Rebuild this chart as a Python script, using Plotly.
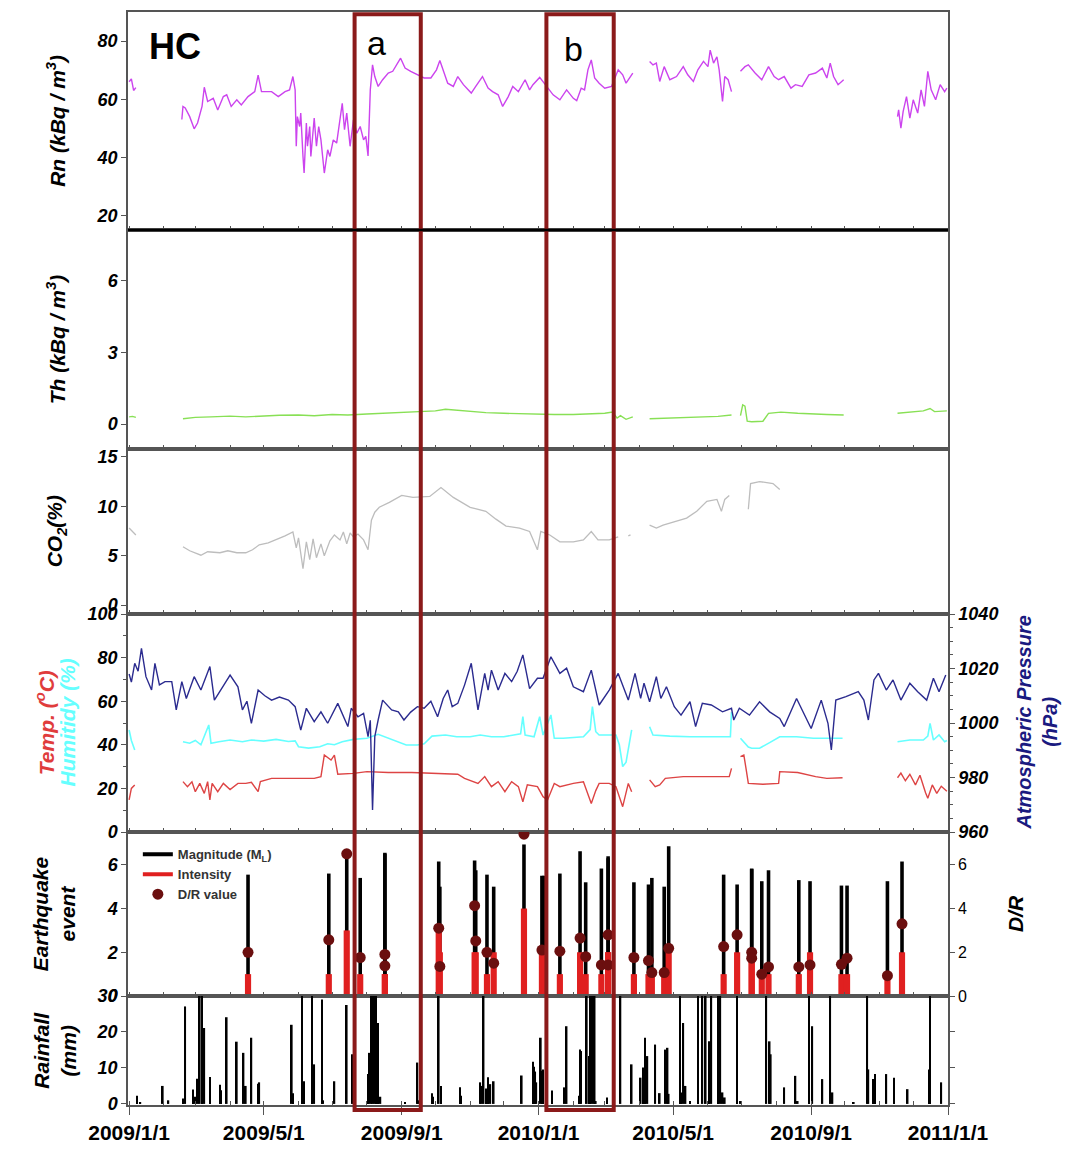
import plotly.graph_objects as go
from plotly.subplots import make_subplots

FONT = "Liberation Sans, Arial, sans-serif"

# ---------------- data ----------------
rn = [("2009-01-01",66),("2009-01-03",67),("2009-01-05",63),("2009-01-07",64),("2009-01-20",None),
("2009-02-17",53),("2009-02-18",57.5),("2009-02-20",57),("2009-02-24",54),("2009-02-28",49.8),("2009-03-03",51.8),("2009-03-07",57.5),("2009-03-09",64.1),("2009-03-12",59.2),("2009-03-17",60.3),("2009-03-21",56.3),("2009-03-26",60.9),("2009-03-29",61.5),("2009-04-02",57.5),("2009-04-07",59.8),("2009-04-11",58),("2009-04-17",60.9),("2009-04-23",62.6),("2009-04-26",68.3),("2009-04-29",62.6),("2009-05-08",62.6),("2009-05-14",60.9),("2009-05-20",62.6),("2009-05-24",63.2),("2009-05-27",67.8),("2009-05-29",63.2),("2009-05-30",43.8),("2009-05-31",54),("2009-06-02",50.6),("2009-06-03",55.2),("2009-06-05",40.3),("2009-06-06",34.6),("2009-06-08",51.8),("2009-06-09",43.8),("2009-06-11",50.6),("2009-06-12",40.3),("2009-06-15",53.5),("2009-06-17",43.8),("2009-06-19",50.6),("2009-06-21",46),("2009-06-24",34.6),("2009-06-27",42.6),("2009-06-29",40.3),("2009-07-02",46),("2009-07-05",44.9),("2009-07-08",54),("2009-07-10",58.6),("2009-07-12",49.5),("2009-07-14",55.2),("2009-07-17",43.8),("2009-07-20",52.9),("2009-07-23",48.3),("2009-07-26",50.6),("2009-07-29",46),("2009-07-31",47.2),("2009-08-02",40.5),("2009-08-04",63.2),("2009-08-06",71.8),("2009-08-08",67.8),("2009-08-11",64.4),("2009-08-15",66.7),("2009-08-20",69),("2009-08-24",69.6),("2009-08-31",74.1),("2009-09-04",70.7),("2009-09-09",69.6),("2009-09-15",68.4),("2009-09-21",67.3),("2009-09-27",67.3),("2009-10-02",70.1),("2009-10-05",73.3),("2009-10-08",70.1),("2009-10-12",65.5),("2009-10-17",64.4),("2009-10-21",67.8),("2009-10-26",65),("2009-11-02",62.1),("2009-11-06",64.4),("2009-11-12",67.8),("2009-11-17",63.8),("2009-11-21",62.6),("2009-11-26",61.5),("2009-11-30",57.5),("2009-12-05",60.9),("2009-12-09",64.4),("2009-12-14",62.6),("2009-12-20",66.7),("2009-12-24",63.2),("2009-12-27",65),("2010-01-02",67.5),("2010-01-08",64.4),("2010-01-14",61.5),("2010-01-20",59.8),("2010-01-26",63.2),("2010-02-01",60.3),("2010-02-04",59.5),("2010-02-08",63.8),("2010-02-11",63.2),("2010-02-14",70.1),("2010-02-17",73.5),("2010-02-20",67.3),("2010-02-24",65.5),("2010-03-01",63.8),("2010-03-07",64.4),("2010-03-13",70.1),("2010-03-17",68.4),("2010-03-20",65.5),("2010-03-26",69),("2010-04-01",None),
("2010-04-10",73),("2010-04-13",71.8),("2010-04-16",72.4),("2010-04-19",66.1),("2010-04-23",71.2),("2010-04-28",66.7),("2010-05-04",67.8),("2010-05-10",71.2),("2010-05-14",68.4),("2010-05-19",66.1),("2010-05-23",70.1),("2010-05-28",73),("2010-06-01",71.2),("2010-06-03",76.9),("2010-06-06",72.4),("2010-06-09",74.6),("2010-06-11",70.1),("2010-06-14",59.2),("2010-06-16",67.8),("2010-06-19",66.7),("2010-06-22",62.6),("2010-06-26",None),
("2010-06-30",69.6),("2010-07-04",71.2),("2010-07-07",71.8),("2010-07-13",69),("2010-07-19",66.7),("2010-07-25",71.2),("2010-07-30",67.8),("2010-08-03",66.7),("2010-08-08",67.8),("2010-08-14",63.8),("2010-08-18",65),("2010-08-24",64.4),("2010-08-30",68.4),("2010-09-05",69),("2010-09-11",70.7),("2010-09-15",67.3),("2010-09-18",72.4),("2010-09-21",67.8),("2010-09-25",65),("2010-09-30",66.7),("2010-10-20",None),
("2010-11-17",54),("2010-11-18",56.3),("2010-11-20",50),("2010-11-22",55.7),("2010-11-25",60.9),("2010-11-28",53.5),("2010-12-01",59.8),("2010-12-05",55.2),("2010-12-08",63.2),("2010-12-11",57.5),("2010-12-14",69.6),("2010-12-17",63.2),("2010-12-21",59.8),("2010-12-25",65),("2010-12-29",62.6),("2010-12-31",63.8)]

th = [("2009-01-01",0.30),("2009-01-04",0.32),("2009-01-07",0.28),("2009-01-20",None),
("2009-02-18",0.22),("2009-03-01",0.28),("2009-03-15",0.30),("2009-04-01",0.33),("2009-04-15",0.30),("2009-05-01",0.35),("2009-05-15",0.37),("2009-06-01",0.38),("2009-06-15",0.35),("2009-07-01",0.40),("2009-07-15",0.38),("2009-08-01",0.42),("2009-08-15",0.45),("2009-09-01",0.46),("2009-09-15",0.50),("2009-10-01",0.55),("2009-10-10",0.62),("2009-10-20",0.58),("2009-11-01",0.52),("2009-11-15",0.48),("2009-12-01",0.45),("2009-12-15",0.43),("2010-01-01",0.42),("2010-01-15",0.40),("2010-02-01",0.40),("2010-02-15",0.42),("2010-03-01",0.45),("2010-03-08",0.50),("2010-03-12",0.25),("2010-03-15",0.35),("2010-03-20",0.20),("2010-03-26",0.30),("2010-04-01",None),
("2010-04-10",0.22),("2010-04-25",0.25),("2010-05-10",0.28),("2010-05-25",0.30),("2010-06-10",0.32),("2010-06-22",0.38),("2010-06-26",None),
("2010-06-30",0.35),("2010-07-02",0.80),("2010-07-04",0.75),("2010-07-06",0.12),("2010-07-10",0.10),("2010-07-20",0.12),("2010-07-25",0.45),("2010-08-05",0.50),("2010-08-20",0.45),("2010-09-01",0.42),("2010-09-15",0.40),("2010-09-30",0.38),("2010-10-20",None),
("2010-11-17",0.45),("2010-11-28",0.50),("2010-12-10",0.55),("2010-12-16",0.65),("2010-12-20",0.52),("2010-12-31",0.55)]

co2 = [("2009-01-01",7.8),("2009-01-04",7.4),("2009-01-07",7.1),("2009-01-20",None),
("2009-02-18",5.9),("2009-02-24",5.5),("2009-03-06",5.05),("2009-03-12",5.4),("2009-03-23",5.3),("2009-03-30",5.5),("2009-04-07",5.3),("2009-04-15",5.3),("2009-04-21",5.6),("2009-04-27",6.1),("2009-05-05",6.3),("2009-05-12",6.6),("2009-05-20",7.0),("2009-05-27",7.4),("2009-05-30",5.8),("2009-06-01",6.8),("2009-06-05",3.7),("2009-06-08",6.4),("2009-06-11",4.6),("2009-06-14",6.7),("2009-06-17",4.8),("2009-06-21",6.2),("2009-06-24",5.0),("2009-06-29",6.5),("2009-07-03",7.1),("2009-07-08",6.6),("2009-07-11",7.4),("2009-07-14",6.2),("2009-07-17",7.3),("2009-07-20",6.9),("2009-07-24",7.2),("2009-07-29",6.6),("2009-08-02",5.6),("2009-08-05",8.6),("2009-08-08",9.4),("2009-08-12",9.9),("2009-08-21",10.4),("2009-09-01",11.1),("2009-09-11",10.9),("2009-09-26",11.0),("2009-10-06",11.9),("2009-10-17",10.9),("2009-11-01",9.9),("2009-11-15",9.5),("2009-11-24",8.7),("2009-12-03",8.0),("2009-12-15",7.8),("2009-12-24",7.45),("2009-12-31",5.6),("2010-01-03",7.45),("2010-01-11",7.1),("2010-01-20",6.4),("2010-02-01",6.4),("2010-02-10",6.6),("2010-02-17",7.45),("2010-02-23",6.6),("2010-03-05",6.6),("2010-03-13",6.9),("2010-03-18",None),
("2010-03-22",7.0),("2010-03-24",7.1),("2010-04-01",None),
("2010-04-10",8.1),("2010-04-16",7.8),("2010-04-22",8.1),("2010-05-04",8.5),("2010-05-13",8.8),("2010-05-22",9.5),("2010-05-31",10.5),("2010-06-09",10.7),("2010-06-13",9.5),("2010-06-16",10.7),("2010-06-20",11.1),("2010-06-28",None),
("2010-07-07",9.7),("2010-07-09",12.3),("2010-07-17",12.5),("2010-07-26",12.3),("2010-07-29",12.3),("2010-08-04",11.7)]

temp = [("2009-01-01",14.7),("2009-01-03",20),("2009-01-06",21.6),("2009-01-20",None),
("2009-02-18",23.1),("2009-02-22",20.8),("2009-02-26",23),("2009-03-01",18.5),("2009-03-05",22.3),("2009-03-09",17.7),("2009-03-12",23.1),("2009-03-14",14.7),("2009-03-16",22.3),("2009-03-21",18.5),("2009-03-26",22.3),("2009-04-01",19.5),("2009-04-08",22.3),("2009-04-15",22.3),("2009-04-20",22.8),("2009-04-26",18.5),("2009-04-28",23.1),("2009-05-08",24.6),("2009-05-20",24.6),("2009-06-01",24.6),("2009-06-15",24.6),("2009-06-21",25.4),("2009-06-24",35.3),("2009-06-30",33),("2009-07-03",35.3),("2009-07-06",26.5),("2009-07-20",26.9),("2009-08-01",27.7),("2009-08-20",27.3),("2009-09-10",27.3),("2009-10-01",26.9),("2009-10-21",26.5),("2009-10-27",24.6),("2009-11-08",22.3),("2009-11-14",25.4),("2009-11-20",20.8),("2009-11-26",23.1),("2009-12-02",18.5),("2009-12-08",23.1),("2009-12-14",20.8),("2009-12-18",13.9),("2009-12-22",21.6),("2009-12-31",20.8),("2010-01-05",16.2),("2010-01-09",14.7),("2010-01-15",22.3),("2010-01-20",20.8),("2010-02-01",22.3),("2010-02-10",23),("2010-02-17",13.1),("2010-02-21",19),("2010-02-24",22.3),("2010-03-05",22.3),("2010-03-11",20.8),("2010-03-17",11.6),("2010-03-22",22.3),("2010-03-25",18.5),("2010-04-01",None),
("2010-04-10",23.9),("2010-04-15",20.8),("2010-04-19",21.6),("2010-04-24",24.6),("2010-05-10",25.4),("2010-06-01",25.4),("2010-06-20",25.4),("2010-06-22",29.2),("2010-06-26",None),
("2010-06-30",34.6),("2010-07-03",35.3),("2010-07-05",29),("2010-07-07",22.3),("2010-07-20",21.9),("2010-08-03",22.3),("2010-08-04",27.7),("2010-08-20",27.3),("2010-09-05",25.4),("2010-09-15",24.6),("2010-09-29",24.9),("2010-10-20",None),
("2010-11-17",24.9),("2010-11-20",27),("2010-11-24",23.5),("2010-11-28",26.5),("2010-12-03",21.6),("2010-12-07",26),("2010-12-12",18),("2010-12-14",15.5),("2010-12-18",21.6),("2010-12-22",17.7),("2010-12-26",21),("2010-12-31",18.7)]

humidity = [("2009-01-01",46.8),("2009-01-03",42),("2009-01-06",37.6),("2009-01-20",None),
("2009-02-18",41.4),("2009-02-24",40.7),("2009-03-01",42),("2009-03-06",40),("2009-03-13",49.1),("2009-03-15",40.7),("2009-03-22",41.4),("2009-04-01",42.2),("2009-04-12",41.4),("2009-04-20",42.2),("2009-05-01",41.7),("2009-05-12",42.5),("2009-05-23",41.5),("2009-05-29",41.8),("2009-06-01",39.1),("2009-06-10",38.5),("2009-06-20",39.1),("2009-06-27",40.5),("2009-07-03",40.0),("2009-07-10",41.4),("2009-07-20",42.5),("2009-08-01",43),("2009-08-11",44.8),("2009-08-20",43),("2009-08-29",41),("2009-09-05",39.9),("2009-09-15",39.9),("2009-09-21",40.5),("2009-09-28",44),("2009-10-10",44.5),("2009-10-20",43.7),("2009-11-01",43.7),("2009-11-10",44.5),("2009-11-20",43.7),("2009-12-01",43.7),("2009-12-10",44.5),("2009-12-16",45),("2009-12-18",52.9),("2009-12-20",44.5),("2009-12-28",43.7),("2010-01-02",52.9),("2010-01-05",44.5),("2010-01-12",53.7),("2010-01-15",43),("2010-01-23",43),("2010-02-10",43.7),("2010-02-16",47),("2010-02-18",57.5),("2010-02-21",46),("2010-02-24",44.5),("2010-03-11",44.5),("2010-03-14",40),("2010-03-17",30),("2010-03-20",32),("2010-03-25",46.8),("2010-04-01",None),
("2010-04-10",48.3),("2010-04-13",44.5),("2010-04-28",44),("2010-05-16",43.7),("2010-06-09",43.7),("2010-06-21",43.7),("2010-06-22",55),("2010-06-26",None),
("2010-06-30",43),("2010-07-07",39),("2010-07-10",38.4),("2010-07-17",38.4),("2010-07-26",41),("2010-08-04",43.7),("2010-08-19",43.7),("2010-09-03",43),("2010-09-18",43),("2010-09-29",43),("2010-10-20",None),
("2010-11-17",41.4),("2010-11-28",42.2),("2010-12-10",42.2),("2010-12-14",44),("2010-12-16",49.8),("2010-12-19",42.2),("2010-12-24",44.5),("2010-12-29",41.4),("2010-12-31",42)]

pressure = [("2009-01-01",1018),("2009-01-03",1015),("2009-01-06",1021.9),("2009-01-09",1019),("2009-01-12",1027.4),("2009-01-16",1017),("2009-01-21",1012.1),("2009-01-24",1021.9),("2009-01-28",1014),("2009-02-02",1015.2),("2009-02-08",1015.2),("2009-02-12",1004.8),("2009-02-17",1015.2),("2009-02-21",1009),("2009-02-28",1017),("2009-03-06",1012.1),("2009-03-14",1020.7),("2009-03-18",1008.4),("2009-03-25",1013),("2009-04-01",1017.6),("2009-04-08",1013.3),("2009-04-12",1004.8),("2009-04-16",1008),("2009-04-20",999.9),("2009-04-26",1012.1),("2009-05-02",1010),("2009-05-08",1008.4),("2009-05-15",1009.5),("2009-05-23",1008.4),("2009-05-29",1006),("2009-06-03",997.4),("2009-06-08",1005.4),("2009-06-15",1000.5),("2009-06-21",1004.1),("2009-06-27",999.9),("2009-07-06",1007.2),("2009-07-15",998.7),("2009-07-18",1005.4),("2009-07-24",1002.3),("2009-07-29",1003.5),("2009-08-02",995),("2009-08-04",1001),("2009-08-06",968.1),("2009-08-08",995),("2009-08-11",1001.1),("2009-08-15",1008.4),("2009-08-23",1004.8),("2009-08-29",1004.1),("2009-09-03",1001.1),("2009-09-09",1004),("2009-09-15",1006),("2009-09-21",1005.4),("2009-09-27",1008),("2009-10-03",1002.3),("2009-10-08",1009),("2009-10-12",1012.1),("2009-10-16",1006),("2009-10-21",1007.2),("2009-10-27",1013.9),("2009-11-02",1021.9),("2009-11-08",1004.8),("2009-11-14",1018.2),("2009-11-17",1012.1),("2009-11-20",1019.4),("2009-11-26",1012.1),("2009-12-02",1018.2),("2009-12-08",1015.2),("2009-12-13",1019),("2009-12-18",1025),("2009-12-24",1012.6),("2009-12-31",1016.4),
("2010-01-05",1016.4),("2010-01-12",1024.3),("2010-01-20",1018.2),("2010-01-26",1020.1),("2010-02-01",1013.3),("2010-02-10",1011.5),("2010-02-17",1019.4),("2010-02-24",1006.6),("2010-03-05",1012.1),("2010-03-13",1018.2),("2010-03-22",1008.4),("2010-03-28",1018.2),("2010-04-02",1009),("2010-04-05",1014.6),("2010-04-10",1007.8),("2010-04-16",1017),("2010-04-20",1009),("2010-04-25",1013.3),("2010-05-02",1006),("2010-05-08",1002.9),("2010-05-16",1007.8),("2010-05-21",998.7),("2010-05-27",1007.2),("2010-06-04",1006.6),("2010-06-14",1004.1),("2010-06-22",1005.4),("2010-06-24",1001.1),("2010-06-29",1005.4),("2010-07-08",1002.9),("2010-07-17",1007.8),("2010-07-26",1004.1),("2010-08-04",1001.7),("2010-08-08",998.7),("2010-08-19",1009),("2010-08-25",1004.1),("2010-09-01",998),("2010-09-10",1008.4),("2010-09-16",999.9),("2010-09-19",990.1),("2010-09-23",1008.4),("2010-10-02",1009.7),("2010-10-13",1011.5),("2010-10-18",1008.4),("2010-10-22",1001.1),("2010-10-27",1015.8),("2010-10-31",1018.2),("2010-11-07",1012.1),("2010-11-13",1015.8),("2010-11-20",1008.4),("2010-11-28",1014.6),("2010-12-05",1011.5),("2010-12-13",1008.4),("2010-12-19",1016.4),("2010-12-24",1011.5),("2010-12-30",1017.6)]

# earthquake events: date, magnitude (ML), intensity, D/R value
eq_dates = ["2009-04-17","2009-06-28","2009-07-14","2009-07-26","2009-08-17","2009-08-17","2009-10-04","2009-10-05","2009-11-05","2009-11-06","2009-11-16","2009-11-22","2009-12-19","2010-01-04","2010-01-06","2010-01-20","2010-02-07","2010-02-12","2010-02-26","2010-03-04","2010-03-04","2010-03-27","2010-04-09","2010-04-12","2010-04-23","2010-04-27","2010-06-15","2010-06-27","2010-07-10","2010-07-10","2010-07-19","2010-07-25","2010-08-21","2010-08-31","2010-09-28","2010-10-03","2010-11-08","2010-11-21"]
eq_magnitude = [5.55,5.6,6.45,5.4,6.55,6.5,6.15,5.0,6.2,5.75,5.55,5.0,6.93,5.5,5.5,5.6,6.62,5.2,5.83,6.39,6.3,5.2,5.1,5.4,5.0,6.85,5.55,5.1,5.83,5.8,5.25,5.75,5.3,5.25,5.05,5.05,5.25,6.15]
eq_intensity = [1,1,3,1,1,1,3,2,2,2,1,2,4,2,2,1,2,1,1,2,2,1,1,1,1,2,1,2,2,2,1,1,1,2,1,1,1,2]
eq_dr = [2.0,2.57,6.5,1.76,1.9,1.38,3.1,1.35,4.13,2.52,2.0,1.5,7.4,2.1,None,2.05,2.65,1.8,1.42,2.8,1.42,1.76,1.62,1.07,1.07,2.18,2.26,2.8,2.0,1.73,1.0,1.33,1.33,1.42,1.45,1.73,0.93,3.3]

rain = [("2009-01-08",2.3),("2009-01-11",0.5),("2009-01-31",5.0),("2009-02-05",1),("2009-02-18",1.5),("2009-02-20",27.1),("2009-02-27",4),("2009-03-01",2),("2009-03-03",7),("2009-03-05",35),("2009-03-07",35),("2009-03-09",21.1),("2009-03-14",7.5),("2009-03-23",5.3),("2009-03-24",3.8),("2009-03-29",24.1),("2009-04-07",17.3),("2009-04-13",14.2),("2009-04-15",5),("2009-04-20",18.4),("2009-04-26",5.6),("2009-04-27",6),("2009-05-26",22),("2009-05-27",3),("2009-06-04",35),("2009-06-06",6.3),("2009-06-13",35),("2009-06-15",11),("2009-06-22",29),("2009-06-23",1),("2009-07-03",6.3),("2009-07-14",27.5),("2009-07-19",13.8),("2009-08-02",8.3),("2009-08-03",14.2),("2009-08-05",35),("2009-08-06",35),("2009-08-08",35),("2009-08-09",35),("2009-08-11",22.5),("2009-08-13",2),("2009-09-04",0.5),("2009-09-15",11.5),("2009-09-16",1),("2009-09-28",3),("2009-09-29",2),("2009-10-04",35),("2009-10-06",5),("2009-10-23",4.6),("2009-10-24",2.3),("2009-11-10",6),("2009-11-11",5),("2009-11-13",35),("2009-11-15",4.3),("2009-11-17",7.4),("2009-11-19",5.5),("2009-11-22",6.3),("2009-12-17",7.9),("2009-12-27",11.7),("2009-12-28",10.3),("2009-12-29",9),("2009-12-30",6),
("2010-01-03",18.4),("2010-01-04",9.2),("2010-01-05",9.6),("2010-01-13",3.7),("2010-01-24",4.6),("2010-01-26",21.6),("2010-02-06",2.3),("2010-02-07",15.1),("2010-02-08",14.7),("2010-02-13",35),("2010-02-15",13.3),("2010-02-16",35),("2010-02-18",35),("2010-02-20",35),("2010-02-21",0.8),("2010-03-03",1.8),("2010-03-15",35),("2010-03-25",11),("2010-04-02",7.3),("2010-04-04",10.1),("2010-04-06",18.4),("2010-04-08",13.3),("2010-04-15",16.5),("2010-04-19",3),("2010-04-24",15.1),("2010-04-26",15.6),("2010-04-27",2.8),("2010-05-07",35),("2010-05-08",3.2),("2010-05-10",22.5),("2010-05-12",5),("2010-05-16",0.8),("2010-05-23",35),("2010-05-27",35),("2010-05-30",35),("2010-06-02",17.4),("2010-06-04",35),("2010-06-10",35),("2010-06-12",35),("2010-06-14",3.2),("2010-06-16",1.8),("2010-06-27",35),("2010-06-30",0.8),("2010-07-23",35),("2010-07-26",17.4),("2010-07-27",13.8),("2010-08-08",4.6),("2010-08-18",7.8),("2010-08-20",0.8),("2010-08-30",35),("2010-09-02",21.6),("2010-09-11",6.9),("2010-09-18",35),("2010-09-20",3.2),("2010-10-09",0.5),("2010-10-21",35),("2010-10-22",9.6),("2010-10-26",6.9),("2010-10-28",8.3),("2010-11-07",8.3),("2010-11-14",7.3),("2010-11-26",4.1),("2010-12-15",9.6),("2010-12-16",35),("2010-12-26",6)]

box_a = ("2009-07-21", "2009-09-18")
box_b = ("2010-01-08", "2010-03-09")

x_tickvals = ["2009-01-01","2009-05-01","2009-09-01","2010-01-01","2010-05-01","2010-09-01","2011-01-01"]
x_ticktext = ["2009/1/1","2009/5/1","2009/9/1","2010/1/1","2010/5/1","2010/9/1","2011/1/1"]

def split(pairs):
    return [p[0] for p in pairs], [p[1] for p in pairs]

# ---------------- figure ----------------
fig = make_subplots(rows=6, cols=1, shared_xaxes=True, vertical_spacing=0,
                    row_heights=[218, 219, 165, 218, 164, 109],
                    specs=[[{}], [{}], [{}], [{"secondary_y": True}], [{"secondary_y": True}], [{}]])

x, y = split(rn)
fig.add_trace(go.Scatter(x=x, y=y, mode="lines", line=dict(color="#CC44EE", width=1.4), showlegend=False), row=1, col=1)
x, y = split(th)
fig.add_trace(go.Scatter(x=x, y=y, mode="lines", line=dict(color="#88E055", width=1.4), showlegend=False), row=2, col=1)
x, y = split(co2)
fig.add_trace(go.Scatter(x=x, y=y, mode="lines", line=dict(color="#BDBDBD", width=1.3), showlegend=False), row=3, col=1)
x, y = split(temp)
fig.add_trace(go.Scatter(x=x, y=y, mode="lines", line=dict(color="#DD4444", width=1.4), showlegend=False), row=4, col=1, secondary_y=False)
x, y = split(humidity)
fig.add_trace(go.Scatter(x=x, y=y, mode="lines", line=dict(color="#66FFFF", width=1.6), showlegend=False), row=4, col=1, secondary_y=False)
x, y = split(pressure)
fig.add_trace(go.Scatter(x=x, y=y, mode="lines", line=dict(color="#2B2B8F", width=1.4), showlegend=False), row=4, col=1, secondary_y=True)

DAY = 86400000
fig.add_trace(go.Bar(x=eq_dates, y=eq_magnitude, width=3.2 * DAY, marker=dict(color="black", line=dict(width=0)), showlegend=False), row=5, col=1, secondary_y=False)
fig.add_trace(go.Bar(x=eq_dates, y=eq_intensity, width=5.5 * DAY, marker=dict(color="#E02020", line=dict(width=0)), showlegend=False), row=5, col=1, secondary_y=False)
fig.add_trace(go.Scatter(x=eq_dates, y=eq_dr, mode="markers", marker=dict(color="#6B0F0F", size=11), showlegend=False), row=5, col=1, secondary_y=True)

# legend entries (styled like the reference legend)
fig.add_trace(go.Scatter(x=[None], y=[None], mode="lines", line=dict(color="black", width=4), name="<b>Magnitude (M<sub>L</sub>)</b>"), row=5, col=1)
fig.add_trace(go.Scatter(x=[None], y=[None], mode="lines", line=dict(color="#E02020", width=4), name="<b>Intensity</b>"), row=5, col=1)
fig.add_trace(go.Scatter(x=[None], y=[None], mode="markers", marker=dict(color="#6B0F0F", size=11), name="<b>D/R value</b>"), row=5, col=1)

x, y = split(rain)
fig.add_trace(go.Bar(x=x, y=y, width=1.5 * DAY, marker=dict(color="black", line=dict(width=0)), showlegend=False), row=6, col=1)

# ---------------- axes ----------------
tickfont = dict(family=FONT, size=18, color="black", weight="bold", style="italic")
AX = "#555555"
xr = ["2008-12-31", "2011-01-01"]
for r in range(1, 7):
    fig.update_xaxes(row=r, col=1, range=xr, domain=[0, 1], showline=True, linecolor=AX, linewidth=1.5, mirror=True,
                     showgrid=False, zeroline=False, tickvals=x_tickvals, ticktext=x_ticktext, automargin=False,
                     ticks="outside" if r == 6 else "", ticklen=8, tickcolor=AX,
                     minor=dict(dtick="M1", tick0="2009-01-01", ticks="inside", ticklen=4, tickcolor=AX),
                     tickfont=dict(family=FONT, size=21, color="black", weight="bold"))

common_y = dict(showgrid=False, zeroline=False, showline=True, linecolor=AX, linewidth=1.5, automargin=False,
                ticks="outside", ticklen=5, tickcolor=AX, tickfont=tickfont)
fig.update_yaxes(row=1, col=1, range=[15, 90], tickvals=[20, 40, 60, 80], mirror=True, **common_y)
fig.update_yaxes(row=2, col=1, range=[-1.04, 8.1], tickvals=[0, 3, 6], mirror=True, **common_y)
fig.update_yaxes(row=3, col=1, range=[-0.9, 15.8], tickvals=[0, 5, 10, 15], mirror=True, **common_y)
fig.update_yaxes(row=4, col=1, secondary_y=False, range=[0, 100], tickvals=[0, 20, 40, 60, 80, 100],
                 minor=dict(dtick=10, ticks="outside", ticklen=3, tickcolor=AX), **common_y)
fig.update_yaxes(row=4, col=1, secondary_y=True, range=[960, 1040], tickvals=[960, 980, 1000, 1020, 1040],
                 minor=dict(dtick=5, ticks="outside", ticklen=3, tickcolor=AX), **common_y)
fig.update_yaxes(row=5, col=1, secondary_y=False, range=[0, 7.5], tickvals=[0, 2, 4, 6], **common_y)
dr_y = dict(common_y)
dr_y["tickfont"] = dict(family=FONT, size=16, color="black")
fig.update_yaxes(row=5, col=1, secondary_y=True, range=[0, 7.5], tickvals=[0, 2, 4, 6], **dr_y)
fig.update_yaxes(row=6, col=1, range=[-0.3, 30], tickvals=[0, 10, 20, 30], mirror="ticks", **common_y)

# ---------------- titles / annotations ----------------
def ycenter(axname):
    d = fig.layout[axname].domain
    return (d[0] + d[1]) / 2

ann = []
def ytitle(text, xp, axname, color="black", size=21):
    ann.append(dict(text="<b><i>" + text + "</i></b>", xref="paper", yref="paper", x=xp, y=ycenter(axname),
                    textangle=-90, showarrow=False, xanchor="center", yanchor="middle",
                    font=dict(family=FONT, size=size, color=color)))

ytitle("Rn (kBq / m<sup>3</sup>)", -0.088, "yaxis")
ytitle("Th (kBq / m<sup>3</sup>)", -0.088, "yaxis2")
ytitle("CO<sub>2</sub>(%)", -0.088, "yaxis3")
ytitle("Temp. (<sup>o</sup>C)", -0.101, "yaxis4", "#E03C3C")
ytitle("Humitidy (%)", -0.075, "yaxis4", "#66FFFF")
ytitle("Atmospheric Pressure<br>(hPa)", 1.108, "yaxis4", "#1A1A80", 20)
ytitle("Earthquake<br>event", -0.09, "yaxis6")
ytitle("D/R", 1.083, "yaxis6")
ytitle("Rainfall<br>(mm)", -0.09, "yaxis8")

ann.append(dict(text="<b>HC</b>", xref="paper", yref="paper", x=0.023, y=0.968, xanchor="left", yanchor="middle",
                showarrow=False, font=dict(family=FONT, size=36, color="black")))
for label, box, yp, xs in [("a", box_a, 0.972, 22), ("b", box_b, 0.966, 27)]:
    ann.append(dict(text=label, xref="x", yref="paper", x=box[0], xshift=xs, y=yp, xanchor="center", yanchor="middle",
                    showarrow=False, font=dict(family=FONT, size=34, color="black")))

shapes = []
for box in (box_a, box_b):
    shapes.append(dict(type="rect", xref="x", yref="paper", x0=box[0], x1=box[1], y0=-0.0046, y1=0.998,
                       line=dict(color="#8B1A1A", width=4), fillcolor="rgba(0,0,0,0)", layer="above"))
# thick separator between Rn and Th panels
shapes.append(dict(type="line", xref="paper", yref="paper", x0=0, x1=1,
                   y0=fig.layout.yaxis.domain[0], y1=fig.layout.yaxis.domain[0],
                   line=dict(color="black", width=2.5), layer="above"))

fig.update_layout(
    width=1069, height=1150,
    margin=dict(l=128, r=121, t=12, b=45, autoexpand=False),
    plot_bgcolor="white", paper_bgcolor="white",
    barmode="overlay",
    font=dict(family=FONT, color="black"),
    annotations=ann, shapes=shapes,
    legend=dict(x=0.012, y=0.243, xanchor="left", yanchor="top", bgcolor="rgba(0,0,0,0)",
                font=dict(family=FONT, size=13, color="#333333"), itemwidth=30, tracegroupgap=0),
)

fig.write_html("out.html", config={"displayModeBar": False},
               post_script="document.body.style.margin='0px';document.body.style.overflow='hidden';")
